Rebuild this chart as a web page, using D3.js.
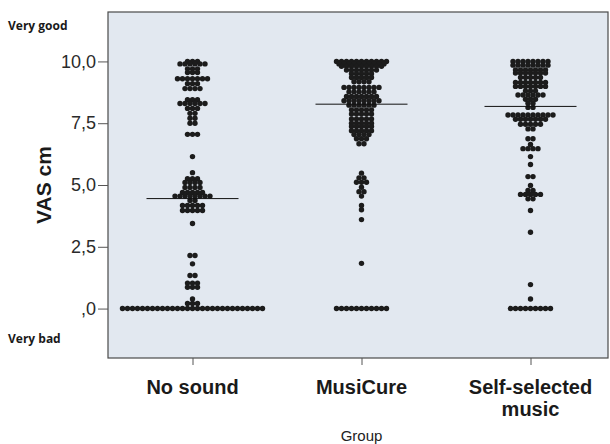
<!DOCTYPE html>
<html>
<head>
<meta charset="utf-8">
<script src="https://cdn.jsdelivr.net/npm/d3@7"></script>
<style>
  body { margin: 0; background: #fff; }
  svg { display: block; }
</style>
</head>
<body>
<div id="container"></div>
<script>
"use strict";

const groups = ["No sound", "MusiCure", "Self-selected music"];
const groupLabels = [["No sound"], ["MusiCure"], ["Self-selected", "music"]];
const yTicks = [0, 2.5, 5, 7.5, 10];
const means = [4.45, 8.27, 8.18];

// dot rows: value of the row and number of dots in it
const noSoundValues = [10.0, 9.9, 9.7, 9.55, 9.3, 9.1, 8.9, 8.45, 8.3, 8.1, 7.9, 7.7, 7.5, 7.05,
  6.15, 5.5, 5.25, 5.1, 4.9, 4.7, 4.55, 4.37, 4.17, 3.97, 3.44,
  2.15, 1.81, 1.34, 1.03, 0.86, 0.39, 0.21, 0.0];
const noSoundCounts = [3, 6, 3, 3, 7, 3, 4, 3, 6, 3, 2, 2, 2, 3,
  1, 1, 3, 4, 4, 5, 8, 2, 5, 5, 1,
  2, 1, 2, 3, 3, 1, 3, 29];

const musiCureValues = [10.0, 9.9, 9.8, 9.65, 9.5, 9.35, 9.18, 8.95, 8.77, 8.58, 8.41, 8.23, 8.04,
  7.87, 7.67, 7.5, 7.37, 7.2, 7.04, 6.87, 6.67,
  5.48, 5.29, 5.11, 4.91, 4.73, 4.55, 4.17, 4.0, 3.6, 1.83, 0.0];
const musiCureCounts = [11, 10, 9, 7, 5, 5, 4, 8, 6, 7, 8, 6, 5,
  5, 5, 5, 5, 5, 4, 3, 2,
  1, 2, 3, 1, 2, 1, 1, 1, 1, 1, 11];

const selfSelectedValues = [10.0, 9.85, 9.66, 9.53, 9.35, 9.15, 8.99, 8.81, 8.64, 8.47, 8.31, 8.14,
  7.83, 7.66, 7.46, 7.27, 6.87, 6.64, 6.47, 6.15, 5.83, 5.34,
  4.98, 4.78, 4.62, 4.44, 3.97, 3.09, 0.97, 0.39, 0.0];
const selfSelectedCounts = [8, 8, 7, 7, 5, 7, 7, 3, 6, 3, 2, 2,
  10, 7, 5, 2, 2, 1, 4, 1, 1, 2,
  1, 2, 5, 2, 1, 1, 1, 1, 9];

const width = 610;
const height = 444;
const plot = { left: 108, top: 12, right: 608, bottom: 358 };
const dotStep = 5;
const dotRadius = 2.7;
const meanHalfWidth = 46;

const svg = d3.select("#container")
  .append("svg")
  .attr("width", width)
  .attr("height", height);

const x = d3.scalePoint()
  .domain(groups)
  .range([plot.left, 615])
  .padding(0.5);

const y = d3.scaleLinear()
  .domain([-2, 12])
  .range([plot.bottom, plot.top]);

svg.append("rect")
  .attr("x", plot.left)
  .attr("y", plot.top)
  .attr("width", plot.right - plot.left)
  .attr("height", plot.bottom - plot.top)
  .attr("fill", "#e2e8f0")
  .attr("stroke", "#4a4a4a")
  .attr("stroke-width", 1.2);

// y axis
const yAxis = d3.axisLeft(y)
  .tickValues(yTicks)
  .tickSize(10)
  .tickPadding(2)
  .tickFormat(d => d3.format(".1f")(d).replace(".", ",").replace(/^0/, ""));

const yg = svg.append("g")
  .attr("transform", `translate(${plot.left},0)`)
  .call(yAxis);
yg.select(".domain").remove();
yg.selectAll("line").attr("stroke", "#555");
yg.selectAll("text")
  .attr("fill", "#2a2a2a")
  .style("font-family", "'Liberation Sans', Arial, sans-serif")
  .style("font-size", "18px");

// x axis
const xAxis = d3.axisBottom(x).tickSize(7).tickFormat("");
const xg = svg.append("g")
  .attr("transform", `translate(0,${plot.bottom})`)
  .call(xAxis);
xg.select(".domain").remove();
xg.selectAll("line").attr("stroke", "#555");

groups.forEach((g, i) => {
  groupLabels[i].forEach((line, k) => {
    svg.append("text")
      .attr("x", x(g))
      .attr("y", 394 + k * 22)
      .attr("text-anchor", "middle")
      .attr("fill", "#1a1a1a")
      .style("font-family", "'Liberation Sans', Arial, sans-serif")
      .style("font-size", "20px")
      .style("font-weight", "bold")
      .text(line);
  });
});

svg.append("text")
  .attr("x", x(groups[1]))
  .attr("y", 441)
  .attr("text-anchor", "middle")
  .attr("fill", "#222")
  .style("font-family", "'Liberation Sans', Arial, sans-serif")
  .style("font-size", "15px")
  .text("Group");

svg.append("text")
  .attr("transform", `translate(51,${(plot.top + plot.bottom) / 2}) rotate(-90)`)
  .attr("text-anchor", "middle")
  .attr("fill", "#1a1a1a")
  .style("font-family", "'Liberation Sans', Arial, sans-serif")
  .style("font-size", "21px")
  .style("font-weight", "bold")
  .text("VAS cm");

svg.append("text")
  .attr("x", 8)
  .attr("y", 30)
  .attr("fill", "#1a1a1a")
  .style("font-family", "'Open Sans', sans-serif")
  .style("font-size", "12px")
  .style("font-weight", "bold")
  .text("Very good");

svg.append("text")
  .attr("x", 8)
  .attr("y", 343)
  .attr("fill", "#1a1a1a")
  .style("font-family", "'Open Sans', sans-serif")
  .style("font-size", "12px")
  .style("font-weight", "bold")
  .text("Very bad");

// dots
const rows = [
  [noSoundValues, noSoundCounts],
  [musiCureValues, musiCureCounts],
  [selfSelectedValues, selfSelectedCounts],
];

const dots = [];
rows.forEach(([values, counts], gi) => {
  values.forEach((v, r) => {
    const n = counts[r];
    for (let j = 0; j < n; j++) {
      dots.push({ group: groups[gi], value: v, offset: (j - (n - 1) / 2) * dotStep });
    }
  });
});

svg.append("g")
  .selectAll("circle")
  .data(dots)
  .enter()
  .append("circle")
  .attr("cx", d => x(d.group) + d.offset)
  .attr("cy", d => y(d.value))
  .attr("r", dotRadius)
  .attr("fill", "#1c1c1c");

// mean lines
svg.append("g")
  .selectAll("line")
  .data(means)
  .enter()
  .append("line")
  .attr("x1", (d, i) => x(groups[i]) - meanHalfWidth)
  .attr("x2", (d, i) => x(groups[i]) + meanHalfWidth)
  .attr("y1", d => y(d))
  .attr("y2", d => y(d))
  .attr("stroke", "#111")
  .attr("stroke-width", 1);
</script>
</body>
</html>
